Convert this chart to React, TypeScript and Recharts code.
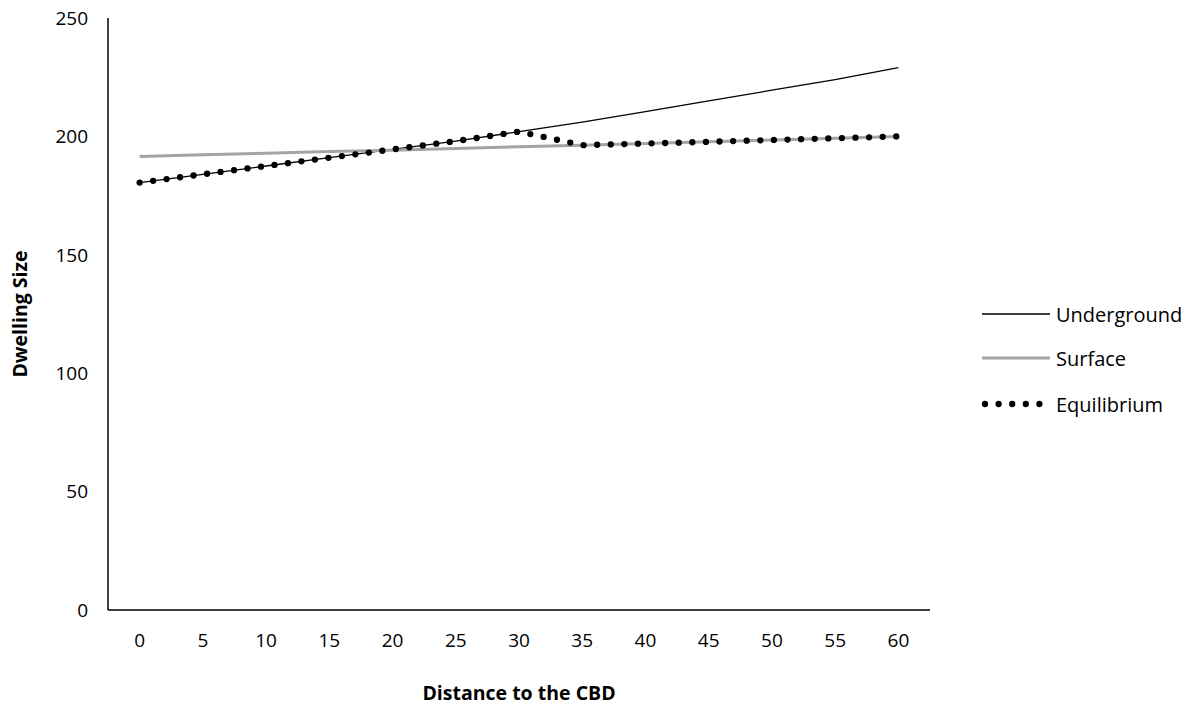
import { LineChart, Line, XAxis, YAxis } from "recharts";

const distance = [0, 5, 10, 15, 20, 25, 30, 35, 40, 45, 50, 55, 60];
const underground = [180.5, 184, 187.5, 191, 194.5, 198, 202, 206, 210.5, 215, 219.5, 224, 229];
const surface = [191.5, 192.2, 192.9, 193.6, 194.2, 194.9, 195.6, 196.3, 197, 197.7, 198.5, 199.2, 200];
const equilibrium = [180.5, 184, 187.5, 191, 194.5, 198, 202, 196.3, 197, 197.7, 198.5, 199.2, 200];
const yTicks = [0, 50, 100, 150, 200, 250];

const data = distance.map((d, i) => ({
  distance: d,
  underground: underground[i],
  surface: surface[i],
  equilibrium: equilibrium[i],
}));

const FONT = "'Open Sans', sans-serif";
const DOTS = "0 13.6";

const legendItems = [
  { name: "Underground", color: "#000", width: 1.3, dash: undefined as string | undefined, cap: "butt" as const },
  { name: "Surface", color: "#a5a5a5", width: 3, dash: undefined as string | undefined, cap: "butt" as const },
  { name: "Equilibrium", color: "#000", width: 6.3, dash: DOTS, cap: "round" as const },
];

function SideLegend() {
  const rows = [314, 358, 404];
  return (
    <>
      {legendItems.map((it, i) => (
        <div
          key={it.name}
          style={{
            position: "absolute",
            left: 980,
            top: rows[i] - 15,
            height: 30,
            display: "flex",
            alignItems: "center",
            fontFamily: FONT,
            fontSize: 20,
            color: "#000",
          }}
        >
          <svg width={76} height={30}>
            <line
              x1={it.cap === "round" ? 5 : 2}
              x2={it.cap === "round" ? 68 : 70}
              y1={15}
              y2={15}
              stroke={it.color}
              strokeWidth={it.width}
              strokeDasharray={it.dash}
              strokeLinecap={it.cap}
            />
          </svg>
          <span>{it.name}</span>
        </div>
      ))}
    </>
  );
}

export default function App() {
  return (
    <div style={{ position: "relative", width: 1199, height: 715, margin: "-8px 0 0 -8px" }}>
      <LineChart
        width={1199}
        height={715}
        data={data}
        margin={{ top: 18, right: 269, bottom: 0, left: 0 }}
      >
        <XAxis
          dataKey="distance"
          type="number"
          domain={[-2.5, 62.5]}
          ticks={distance}
          interval={0}
          height={105}
          tickLine={false}
          tickSize={0}
          tickMargin={24}
          axisLine={{ stroke: "#000", strokeWidth: 1.5 }}
          tick={{ fill: "#000", fontSize: 19, fontFamily: FONT }}
          label={{
            value: "Distance to the CBD",
            position: "insideBottom",
            offset: 15,
            style: { fill: "#000", fontSize: 19.5, fontWeight: 700, fontFamily: FONT },
          }}
        />
        <YAxis
          type="number"
          domain={[0, 250]}
          ticks={yTicks}
          interval={0}
          width={108}
          tickLine={false}
          tickSize={0}
          tickMargin={20}
          axisLine={{ stroke: "#000", strokeWidth: 1.5 }}
          tick={{ fill: "#000", fontSize: 19, fontFamily: FONT }}
          label={{
            value: "Dwelling Size",
            angle: -90,
            position: "insideLeft",
            offset: 20,
            style: { textAnchor: "middle", fill: "#000", fontSize: 19.5, fontWeight: 700, fontFamily: FONT },
          }}
        />
        <Line
          dataKey="underground"
          stroke="#000"
          strokeWidth={1.3}
          dot={false}
          activeDot={false}
          isAnimationActive={false}
        />
        <Line
          dataKey="surface"
          stroke="#a5a5a5"
          strokeWidth={3}
          dot={false}
          activeDot={false}
          isAnimationActive={false}
        />
        <Line
          dataKey="equilibrium"
          stroke="#000"
          strokeWidth={6.3}
          strokeDasharray={DOTS}
          strokeLinecap="round"
          dot={false}
          activeDot={false}
          isAnimationActive={false}
        />
      </LineChart>
      <SideLegend />
    </div>
  );
}
